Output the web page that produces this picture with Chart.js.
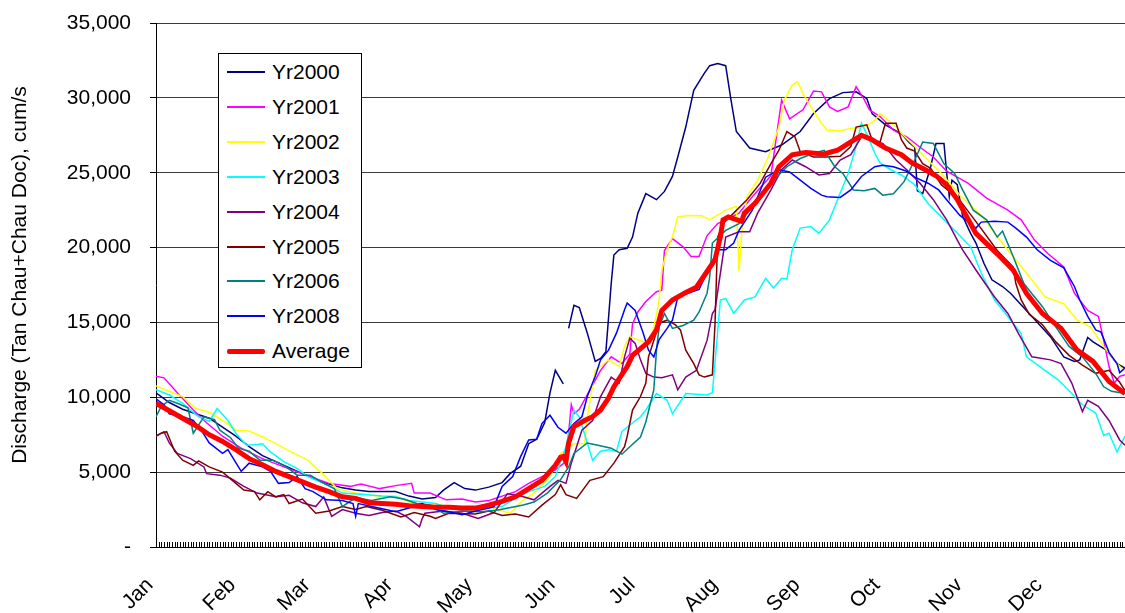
<!DOCTYPE html>
<html>
<head>
<meta charset="utf-8">
<script src="https://cdn.jsdelivr.net/npm/chart.js@4.4.1/dist/chart.umd.min.js"></script>
<style>
  html, body { margin: 0; padding: 0; background: #fff; }
  #wrap { position: relative; width: 1125px; height: 613px; overflow: hidden;
          font-family: "Liberation Sans", Arial, sans-serif; color: #000; }
  #chart { position: absolute; left: 0; top: 0; }
  #ytitle { position: absolute; left: -231px; top: 263px; width: 500px; height: 24px;
            line-height: 24px; text-align: center; font-size: 21px; white-space: nowrap;
            transform: rotate(-90deg); transform-origin: 50% 50%; }
  #legend { position: absolute; left: 218px; top: 53px; width: 142px; height: 313px;
            border: 1px solid #000; background: #fff; }
  .item { position: absolute; left: 0; width: 142px; height: 26px; }
  .swatch { position: absolute; left: 8px; width: 38px; }
  .label { position: absolute; left: 53px; top: 0; line-height: 26px; font-size: 21px; white-space: nowrap; }
</style>
</head>
<body>
<div id="wrap">
  <canvas id="chart" width="1125" height="613"></canvas>
  <div id="ytitle">Discharge (Tan Chau+Chau Doc), cum/s</div>
  <div id="legend"></div>
</div>
<script>
// Daily discharge, [day of year (0 = 1 Jan), m3/s]
const yr2000 = [[0,10300],[5,9650],[10,9200],[15,8900],[20,8600],[25,8000],[30,7400],[35,6700],[40,6100],[45,5700],[50,5300],[55,4900],[60,4500],[65,4200],[70,3950],[75,3800],[80,3700],[85,3700],[90,3700],[95,3400],[100,3200],[105,3300],[108,3800],[112,4300],[116,3900],[120,3800],[125,4000],[130,4300],[133,4900],[137,5400],[140,6900],[143,7200],[146,8300],[148,10300],[150,11800],[152,11200],[153,10900],[154,null],[155,14600],[157,16150],[159,16000],[162,14300],[165,12400],[167,12600],[169,13050],[171,17600],[172,19500],[174,19850],[177,19950],[179,20700],[181,22300],[184,23600],[188,23200],[191,23750],[194,24750],[196,26050],[199,28050],[202,30500],[206,31650],[208,32150],[211,32300],[214,32150],[216,29850],[218,27750],[223,26650],[229,26400],[235,26850],[242,27750],[247,28950],[253,29950],[258,30350],[263,30400],[267,29950],[269,28950],[274,28200],[280,27600],[283,27000],[285,26700],[286,23800],[288,23600],[291,25400],[293,26950],[296,26950],[297,25000],[298,23400],[299,24500],[301,24200],[303,22100],[306,20950],[308,20300],[311,18950],[314,17850],[318,17400],[321,16950],[328,15600],[336,14050],[341,12700],[345,12400],[347,12500],[350,14000],[352,13700],[357,13150],[361,12250],[364,11950]];

const yr2001 = [[0,11400],[3,11300],[8,10300],[14,9150],[19,8300],[25,7400],[32,6600],[40,5900],[48,5350],[58,4700],[65,4250],[73,4050],[77,4200],[84,3900],[90,4100],[96,4250],[97,3600],[103,3600],[109,3150],[115,3200],[120,3000],[125,3100],[130,3400],[135,3700],[140,4250],[145,4700],[150,5150],[154,5700],[156,9500],[157,8900],[159,9200],[163,10500],[167,11800],[171,12700],[175,12250],[178,12900],[179,14900],[181,15700],[184,16400],[188,17050],[190,17150],[191,19800],[194,20600],[198,20050],[201,19400],[204,19400],[207,20800],[211,21600],[214,21850],[219,22300],[224,23400],[231,24800],[235,29850],[238,28600],[243,29200],[247,30450],[250,30400],[253,29400],[256,29100],[260,29400],[263,30750],[266,29900],[268,29200],[272,28750],[277,27850],[282,27400],[287,26700],[292,26050],[297,25100],[305,24300],[312,23300],[320,22500],[325,21850],[330,20500],[335,19600],[341,18700],[345,16950],[350,15800],[354,15400],[356,13800],[358,12050],[360,10950],[362,11400],[364,11500]];

const yr2002 = [[0,10750],[5,10400],[10,10050],[15,9250],[20,9000],[25,8450],[30,7800],[35,7750],[40,7350],[44,7000],[48,6600],[53,6150],[57,5800],[59,5450],[62,5000],[68,3900],[75,3600],[85,3350],[90,3400],[95,3000],[100,2800],[105,2900],[110,2600],[115,2500],[120,2400],[125,2700],[130,2400],[133,2250],[138,3150],[142,3600],[147,4500],[150,5350],[152,6250],[157,6900],[161,6900],[162,8700],[165,11800],[170,12500],[174,12050],[176,13400],[178,14050],[183,13700],[186,13900],[188,15500],[189,16500],[190,18500],[192,19850],[194,20700],[196,22050],[200,22150],[205,22130],[208,21850],[214,22500],[218,22750],[219,18400],[220,21000],[222,23400],[226,24500],[230,26050],[234,28050],[236,29850],[239,30850],[241,31080],[243,30300],[246,29400],[250,28300],[252,27850],[257,27800],[261,27950],[266,28050],[270,28500],[272,28950],[278,28050],[281,27450],[285,26750],[290,25850],[295,24950],[302,23500],[310,22150],[317,20500],[324,18950],[329,17850],[334,16700],[341,16250],[346,15150],[351,14700],[356,13400],[361,12250],[364,11700]];

const yr2003 = [[0,10500],[5,10150],[10,9600],[16,8700],[20,8400],[23,9250],[27,8450],[30,7600],[34,6800],[38,6850],[40,6900],[43,6350],[48,5700],[53,5250],[57,4700],[63,4250],[70,3600],[78,3500],[85,3400],[90,3350],[95,3100],[100,3000],[105,2900],[110,2600],[115,2450],[120,2500],[125,2600],[130,2700],[135,3250],[140,3700],[146,4050],[150,4700],[154,6700],[157,9150],[159,8700],[164,5800],[167,6400],[170,6500],[173,6400],[175,7700],[178,8150],[182,8700],[184,9150],[188,10250],[192,9800],[194,8900],[199,10250],[203,10200],[207,10150],[209,10300],[212,16500],[214,16600],[217,15600],[221,16500],[225,16700],[229,17950],[232,17300],[235,17950],[237,17900],[239,19850],[242,21300],[246,21400],[249,20950],[253,21850],[256,23200],[260,24950],[263,26750],[265,28300],[267,27600],[270,26300],[272,25650],[276,25200],[280,24850],[285,24200],[290,22950],[295,22050],[300,21150],[306,20050],[310,18300],[315,16500],[320,15400],[325,14250],[327,12700],[332,12050],[339,11150],[344,10250],[348,9500],[353,8950],[356,7450],[358,7600],[361,6350],[364,7400]];

const yr2004 = [[0,7400],[3,7700],[5,6950],[8,6250],[13,5900],[18,5350],[19,4900],[24,4800],[28,4600],[33,4050],[38,3600],[45,3350],[50,3450],[55,2950],[60,2700],[63,3350],[66,2050],[70,2500],[75,2250],[80,2100],[85,2300],[90,2400],[94,2050],[99,1350],[100,1900],[101,2250],[108,2400],[115,2250],[121,1900],[127,2300],[132,3550],[137,3400],[142,3150],[148,4050],[151,4450],[154,4250],[156,5600],[160,7800],[164,8450],[167,10050],[171,11350],[174,10950],[176,12700],[178,13950],[180,13600],[182,12500],[184,11600],[187,11350],[190,11300],[194,11500],[196,10500],[199,11350],[203,11800],[207,13800],[209,15600],[210,15850],[214,20700],[219,21050],[223,21050],[226,22300],[231,23850],[235,25200],[239,25850],[244,25400],[249,24850],[253,24950],[257,25850],[261,26200],[265,27400],[268,27350],[270,27050],[273,26950],[276,26300],[278,25850],[282,25200],[287,24300],[292,23200],[297,21850],[301,20500],[303,19850],[308,18500],[315,16700],[320,15600],[324,14250],[329,12700],[336,12500],[340,12250],[344,10950],[348,9050],[350,9800],[354,9400],[358,8450],[362,7150],[364,6800]];

const yr2005 = [[0,7400],[2,7600],[4,7700],[7,6400],[10,5800],[14,5450],[16,5750],[20,5350],[25,5000],[30,4250],[33,3800],[37,3700],[39,3150],[42,3700],[45,3350],[48,3500],[50,2900],[55,3200],[60,2250],[65,2400],[70,2700],[75,2500],[79,2700],[85,2450],[92,2000],[97,2300],[103,2050],[105,1900],[110,2250],[120,2200],[125,2400],[130,2100],[135,2200],[140,2000],[145,2800],[150,3500],[152,4150],[154,3500],[158,3250],[163,4450],[168,4700],[172,5600],[176,6700],[177,7400],[179,9150],[182,10050],[184,10950],[185,12700],[187,13800],[189,14950],[192,15150],[195,14850],[197,14500],[199,13150],[202,12250],[204,11500],[206,11350],[209,11500],[210,14950],[211,20700],[213,21600],[217,22300],[222,23200],[227,24300],[231,25600],[234,26500],[237,27750],[240,27400],[242,26400],[247,26050],[252,26050],[257,26100],[261,26750],[263,28050],[267,28200],[269,27200],[272,27050],[274,28300],[278,28300],[280,27200],[282,26650],[285,26450],[288,25600],[291,25300],[295,24200],[302,23150],[309,21500],[316,19800],[322,18700],[323,17600],[325,16500],[328,15550],[333,14850],[338,13700],[343,12800],[348,12150],[353,11600],[358,11800],[362,11000],[364,10450]];

const yr2006 = [[0,8700],[2,9400],[5,9800],[8,9600],[12,9300],[14,7600],[18,8700],[22,8500],[24,7800],[28,7300],[31,6600],[35,6400],[39,5800],[44,5800],[49,5350],[53,4800],[58,4800],[62,4350],[67,3900],[70,2700],[75,3300],[81,3100],[88,3350],[93,3200],[98,2900],[103,2800],[108,2250],[115,2400],[122,2350],[128,2450],[138,2800],[142,3000],[147,3600],[152,4500],[155,5350],[157,6250],[162,6950],[166,6800],[171,6600],[175,6200],[178,6700],[182,7350],[184,8350],[187,10500],[188,13150],[189,14700],[191,15600],[194,14600],[198,14800],[202,15150],[204,15700],[207,16950],[208,18050],[209,20300],[214,21150],[219,21600],[224,22700],[232,24500],[237,25400],[242,25950],[247,26300],[251,26500],[255,25400],[258,24950],[262,23850],[266,23800],[270,23950],[273,23500],[277,23600],[281,24400],[285,25850],[288,27050],[292,26950],[296,25600],[300,24950],[303,23850],[307,22500],[312,21850],[316,20700],[318,21100],[322,19400],[326,17600],[328,17150],[333,16050],[338,14700],[343,13400],[348,12700],[353,11600],[356,10700],[359,10400],[364,10250]];

const yr2008 = [[0,9900],[3,9500],[5,8900],[10,8700],[14,8450],[17,7800],[20,6950],[25,6250],[27,6500],[32,5050],[35,5600],[40,5350],[43,5050],[46,4250],[50,4300],[53,4700],[56,3900],[59,3700],[64,3150],[70,3100],[74,2900],[75,2050],[76,2900],[85,2550],[90,2350],[95,2600],[100,2900],[105,2500],[110,2350],[115,2150],[120,2400],[125,2600],[127,2700],[130,4050],[134,4700],[137,6050],[140,7150],[143,7200],[145,8250],[148,8800],[151,8000],[154,7600],[157,8250],[160,8700],[162,10050],[165,11400],[167,12500],[170,13150],[173,14300],[176,15850],[177,16300],[180,15800],[183,14300],[185,13150],[187,12700],[189,13850],[192,14600],[194,15150],[196,16700],[199,16900],[204,17200],[208,18700],[211,19850],[214,19850],[217,20300],[219,21150],[224,22500],[229,24700],[234,25200],[238,25050],[242,24500],[246,23950],[250,23500],[252,23400],[257,23350],[261,23850],[265,24750],[270,25400],[273,25500],[277,25400],[282,25100],[285,24700],[290,24300],[294,23850],[297,23200],[302,22150],[306,21600],[308,21300],[310,21700],[315,21750],[320,21700],[323,21300],[327,20700],[331,19850],[336,19150],[341,18650],[345,17400],[347,16500],[350,15400],[353,14500],[355,14350],[358,13000],[361,12250],[362,11650],[364,11950]];

const average = [[0,9600],[5,9100],[10,8600],[15,8100],[20,7500],[25,7050],[30,6500],[35,5900],[40,5500],[45,5050],[50,4700],[55,4350],[60,4000],[65,3700],[70,3350],[75,3250],[80,2950],[85,2900],[90,2850],[95,2750],[100,2700],[105,2650],[110,2650],[115,2600],[120,2600],[125,2800],[130,3050],[135,3350],[140,3900],[145,4450],[150,5450],[152,6000],[153,6050],[154,5700],[155,6950],[157,8050],[161,8450],[164,8700],[167,9150],[170,9950],[172,10700],[174,11250],[177,12050],[179,12800],[183,13400],[185,13700],[188,14500],[190,15800],[194,16500],[199,17000],[203,17350],[207,18400],[210,19200],[212,20700],[213,21850],[215,22050],[220,21750],[221,22300],[225,22950],[231,24300],[234,25400],[239,26200],[244,26350],[251,26250],[256,26500],[260,26950],[265,27500],[269,27200],[274,26650],[280,26200],[284,25650],[289,25200],[293,24800],[297,24200],[301,23200],[308,20950],[317,19400],[322,18500],[327,16950],[333,15600],[340,14600],[346,13150],[352,12400],[358,11050],[364,10250]];

const seriesNames = ['Yr2000', 'Yr2001', 'Yr2002', 'Yr2003', 'Yr2004', 'Yr2005', 'Yr2006', 'Yr2008', 'Average'];
const seriesData = [yr2000, yr2001, yr2002, yr2003, yr2004, yr2005, yr2006, yr2008, average];
const seriesColors = ['#000080', '#FF00FF', '#FFFF00', '#00FFFF', '#800080', '#800000', '#008080', '#0000FF', '#FF0000'];

const monthLabels = ['Jan', 'Feb', 'Mar', 'Apr', 'May', 'Jun', 'Jul', 'Aug', 'Sep', 'Oct', 'Nov', 'Dec'];
const monthStartDays = [0, 31, 59, 90, 120, 151, 181, 212, 243, 273, 304, 334];
const yTicks = [0, 5000, 10000, 15000, 20000, 25000, 30000, 35000];
const dayCount = 365;

const FONT = '"Liberation Sans", Arial, sans-serif';

const datasets = seriesNames.map((name, i) => {
  const isAvg = name === 'Average';
  return {
    label: name,
    data: seriesData[i].map(([d, v]) => ({ x: d, y: v })),
    borderColor: seriesColors[i],
    backgroundColor: seriesColors[i],
    borderWidth: isAvg ? 5 : 1.5,
    pointRadius: 0,
    tension: 0,
    spanGaps: false,
    fill: false,
    // later years drawn above earlier ones, average on top
    order: isAvg ? 0 : seriesNames.length - i
  };
});

// short upward tick marks for every day along the category axis
const dayTicks = {
  id: 'dayTicks',
  afterDatasetsDraw(chart) {
    const { ctx, chartArea } = chart;
    const xs = chart.scales.x;
    ctx.save();
    ctx.strokeStyle = '#000';
    ctx.lineWidth = 1;
    ctx.beginPath();
    for (let d = 0; d < dayCount; d++) {
      const px = Math.round(xs.getPixelForValue(d)) + 0.5;
      ctx.moveTo(px, chartArea.bottom);
      ctx.lineTo(px, chartArea.bottom - 5);
    }
    ctx.stroke();
    ctx.restore();
  }
};

new Chart(document.getElementById('chart'), {
  type: 'line',
  data: { datasets },
  options: {
    responsive: false,
    animation: false,
    devicePixelRatio: 1,
    layout: { padding: { top: 23, right: 0, bottom: 0, left: 0 } },
    plugins: { legend: { display: false }, tooltip: { enabled: false }, title: { display: false } },
    scales: {
      x: {
        type: 'linear',
        min: 0,
        max: dayCount - 1,
        afterFit(s) { s.height = 66; s.paddingLeft = 0; s.paddingRight = 0; },
        grid: { drawOnChartArea: false, drawTicks: false },
        border: { display: true, color: '#000', width: 1 },
        ticks: {
          stepSize: 1,
          autoSkip: false,
          minRotation: 45,
          maxRotation: 45,
          padding: 26,
          labelOffset: -6,
          color: '#000',
          font: { family: FONT, size: 21 },
          callback(v) {
            const k = monthStartDays.indexOf(v);
            return k >= 0 ? monthLabels[k] : '';
          }
        }
      },
      y: {
        min: yTicks[0],
        max: yTicks[yTicks.length - 1],
        afterFit(s) { s.width = 156; s.paddingTop = 0; s.paddingBottom = 0; },
        afterBuildTicks(s) { s.ticks = yTicks.map(v => ({ value: v })); },
        grid: { color: '#3a3a3a', tickColor: '#000', tickLength: 6, lineWidth: 1 },
        border: { display: true, color: '#000', width: 1 },
        ticks: {
          padding: 19,
          color: '#000',
          font: { family: FONT, size: 21 },
          callback(v) { return v === 0 ? '-' : v.toLocaleString('en-US'); }
        }
      }
    }
  },
  plugins: [dayTicks]
});

// legend panel
const legend = document.getElementById('legend');
seriesNames.forEach((name, i) => {
  const item = document.createElement('div');
  item.className = 'item';
  item.style.top = (18.3 - 13 + i * 34.85) + 'px';
  const sw = document.createElement('div');
  sw.className = 'swatch';
  const h = name === 'Average' ? 5 : 2;
  sw.style.height = h + 'px';
  sw.style.top = (13 - h / 2) + 'px';
  sw.style.background = seriesColors[i];
  if (name === 'Average') sw.style.borderRadius = '2px';
  const lb = document.createElement('div');
  lb.className = 'label';
  lb.textContent = name;
  item.appendChild(sw);
  item.appendChild(lb);
  legend.appendChild(item);
});
</script>
</body>
</html>
